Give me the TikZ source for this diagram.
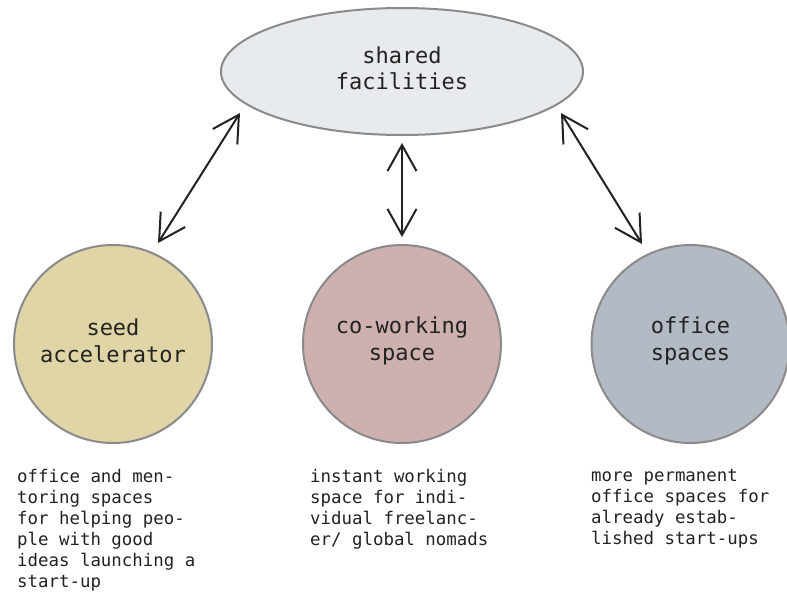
\documentclass[tikz,border=0pt]{standalone}
\usepackage{fontspec}
\setmonofont{DejaVu Sans Mono}
\usetikzlibrary{shapes.geometric,arrows.meta}
\definecolor{seedfill}{HTML}{DFD5A6}
\definecolor{cowfill}{HTML}{CFB0B1}
\definecolor{offfill}{HTML}{B3BAC3}
\definecolor{sharedfill}{HTML}{E8EBEE}
\definecolor{rim}{HTML}{8A8A8A}
\definecolor{ink}{HTML}{222222}
\tikzset{
  bubble/.style={circle, draw=rim, line width=2pt, minimum size=198pt, inner sep=0pt,
    align=center, text=ink, font=\ttfamily\fontsize{22}{26.5}\selectfont},
  topbubble/.style={ellipse, draw=rim, line width=2pt, fill=sharedfill, minimum width=362pt,
    minimum height=127pt, inner sep=0pt, align=center, text=ink,
    font=\ttfamily\fontsize{22}{26.5}\selectfont},
  desc/.style={anchor=north west, align=left, inner sep=0pt, text=ink,
    font=\ttfamily\fontsize{17.4}{21}\selectfont},
  biarrow/.style={line width=2pt, draw=ink,
    arrows={Straight Barb[length=26pt,width=29pt]-Straight Barb[length=26pt,width=29pt]}}
}
\begin{document}
\begin{tikzpicture}[x=1pt,y=-1pt]
\useasboundingbox (0,0) rectangle (787,597);
\node[topbubble] (shared) at (402,71.5) {};
\node[align=center, text=ink, font=\ttfamily\fontsize{22}{26.5}\selectfont] (sharedtext) at (402,68.5) {shared\\facilities};
\node[bubble, fill=seedfill] (seed) at (113,344) {};
\node[bubble, fill=cowfill] (cow) at (402,344) {};
\node[bubble, fill=offfill] (off) at (690.5,344) {};
\node[align=center, text=ink, font=\ttfamily\fontsize{22}{26.5}\selectfont] (seedtext) at (113,341) {seed\\accelerator};
\node[align=center, text=ink, font=\ttfamily\fontsize{22}{26.5}\selectfont] (cowtext) at (402,341) {co-working\\space};
\node[align=center, text=ink, font=\ttfamily\fontsize{22}{26.5}\selectfont] (offtext) at (690.5,341) {office\\spaces};
\coordinate (l1) at ([shift={(-162,41.5)}]shared.center);
\coordinate (l2) at ([shift={(45,-101)}]seed.center);
\coordinate (m1) at ([shift={(0,71.5)}]shared.center);
\coordinate (m2) at ([shift={(0,-107)}]cow.center);
\coordinate (r1) at ([shift={(159,41.5)}]shared.center);
\coordinate (r2) at ([shift={(-48.5,-100)}]off.center);
\draw[biarrow] (l1) -- (l2);
\draw[biarrow] (m1) -- (m2);
\draw[biarrow] (r1) -- (r2);
\node[desc] (d1) at (17,469) {office and men-\\toring spaces\\for helping peo-\\ple with good\\ideas launching a\\start-up};
\node[desc] (d2) at (310,469) {instant working\\space for indi-\\vidual freelanc-\\er/ global nomads};
\node[desc] (d3) at (591,469) {more permanent\\office spaces for\\already estab-\\lished start-ups};
\end{tikzpicture}
\end{document}
